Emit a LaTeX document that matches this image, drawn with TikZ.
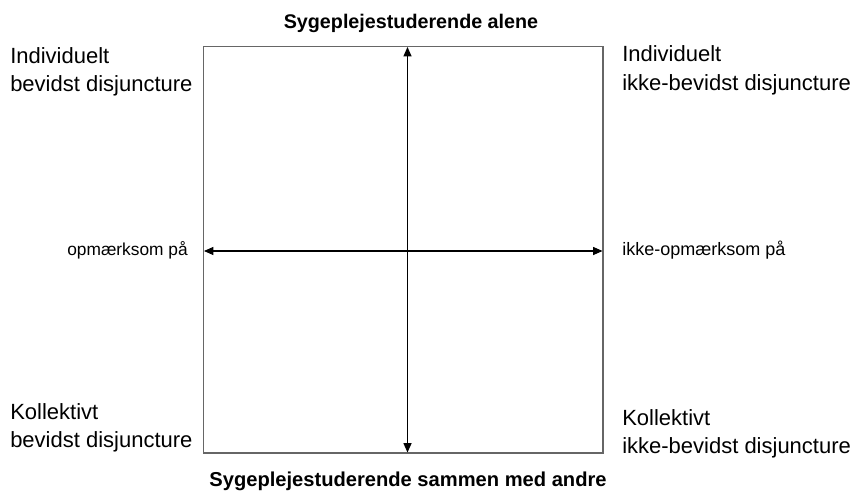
\documentclass[tikz,border=0pt]{standalone}
\usepackage{fontspec}
\setmainfont{Liberation Sans}
\usetikzlibrary{arrows.meta}
\begin{document}
\begin{tikzpicture}[x=0.75pt,y=-0.75pt,
  big/.style={font=\fontsize{16.5}{21}\selectfont, inner sep=0pt, align=left, anchor=base west},
  small/.style={font=\fontsize{13}{16}\selectfont, inner sep=0pt},
  title/.style={font=\fontsize{14.8}{18}\selectfont\bfseries, inner sep=0pt, anchor=base},
  frame/.style={draw=black!60, line width=1pt},
  axis/.style={draw=black, line width=0.8pt, {Triangle[length=7pt,width=6pt]}-{Triangle[length=7pt,width=6pt]}}]
\useasboundingbox (0,0) rectangle (853,492);
\draw[frame] (203.5,46.5) rectangle (603,453);
\coordinate (top) at (407.5,47);
\coordinate (bot) at (407.5,452.5);
\coordinate (lft) at (204,251);
\coordinate (rgt) at (602.5,251);
\draw[axis] (bot) -- (top);
\draw[axis] (lft) -- (rgt);
\node[title] (t1) at (411,29) {Sygeplejestuderende alene};
\node[title, font=\fontsize{15.1}{18}\selectfont\bfseries] (t2) at (408,486) {Sygeplejestuderende sammen med andre};
\node[big] (tl) at (10,92) {Individuelt\\bevidst disjuncture};
\node[big] (tr) at (622,90) {Individuelt\\ikke-bevidst disjuncture};
\node[big] (bl) at (10,447) {Kollektivt\\bevidst disjuncture};
\node[big] (br) at (622,453) {Kollektivt\\ikke-bevidst disjuncture};
\node[small, anchor=base east] (ml) at (188,255) {opmærksom på};
\node[small, anchor=base west, font=\fontsize{13.5}{16}\selectfont] (mr) at (622,255) {ikke-opmærksom på};
\end{tikzpicture}
\end{document}
